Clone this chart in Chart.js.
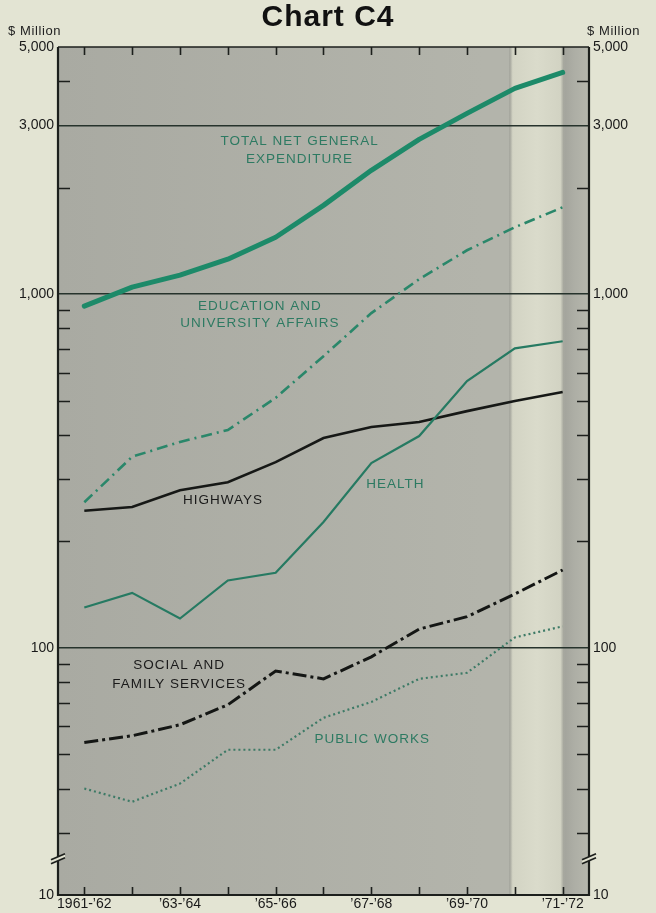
<!DOCTYPE html>
<html>
<head>
<meta charset="utf-8">
<title>Chart C4</title>
<script src="https://cdn.jsdelivr.net/npm/chart.js@4.4.1/dist/chart.umd.min.js"></script>
<style>
  html, body { margin: 0; padding: 0; background: #e3e4d3; }
  #wrap { position: relative; width: 656px; height: 913px; }
  canvas { display: block; }
</style>
</head>
<body>
<div id="wrap"><canvas id="c" width="656" height="913"></canvas></div>
<script>
// Fiscal years on the horizontal axis
const years = ["1961-’62", "’62-’63", "’63-’64", "’64-’65", "’65-’66", "’66-’67",
               "’67-’68", "’68-’69", "’69-’70", "’70-’71", "’71-’72"];
// Only every other year carries a label
const yearLabels = ["1961-’62", "", "’63-’64", "", "’65-’66", "", "’67-’68", "", "’69-’70", "", "’71-’72"];

// Expenditure series, $ million
const totalNet    = [925, 1047, 1132, 1256, 1449, 1783, 2240, 2740, 3245, 3819, 4237];
const education   = [258, 347, 382, 413, 509, 668, 884, 1103, 1331, 1546, 1761];
const health      = [130, 143, 121, 155, 163, 227, 333, 397, 568, 703, 736];
const highways    = [244, 250, 279, 294, 335, 392, 421, 435, 467, 499, 529];
const socialFam   = [54, 56.4, 60.6, 69, 86, 81.7, 94.3, 113, 122.5, 142, 166];
const publicWorks = [40, 36.7, 41.3, 51.5, 51.5, 63.4, 70.3, 81.7, 85, 107, 115];

// Vertical axis: labelled values (the bottom sits below an axis break and reads "10")
const yTickValues = [20, 100, 1000, 3000, 5000];
const yTickLabels = ["10", "100", "1,000", "3,000", "5,000"];
const yMinorTicks = [30, 40, 50, 60, 70, 80, 90, 200, 300, 400, 500, 600, 700, 800, 900, 2000, 4000];
const yGridValues = [100, 1000, 3000];

const GREEN = "#1d8a69";
const GREEN_TXT = "#2d7a62";
const INK = "#1c1f1c";
const FONT = "'Liberation Sans', Arial, sans-serif";

const pts = arr => arr.map((v, i) => ({ x: i, y: v }));

const backdrop = {
  id: "backdrop",
  beforeDraw(chart) {
    const { ctx, chartArea: a, scales } = chart;
    const x = scales.x;
    ctx.save();
    ctx.fillStyle = "#e3e4d3";
    ctx.fillRect(0, 0, chart.width, chart.height);
    // shaded plot body
    const g = ctx.createLinearGradient(a.left, 0, a.right, 0);
    g.addColorStop(0, "#a9aaa2");
    g.addColorStop(0.8, "#b3b4ab");
    g.addColorStop(1, "#b3b4ab");
    ctx.fillStyle = g;
    ctx.fillRect(a.left, a.top, a.right - a.left, a.bottom - a.top);
    // light band over the last year
    const b0 = x.getPixelForValue(8.95), b1 = x.getPixelForValue(9.97);
    const gb = ctx.createLinearGradient(b0 - 3, 0, b1 + 3, 0);
    gb.addColorStop(0, "#9d9e96");
    gb.addColorStop(0.06, "#d3d4c4");
    gb.addColorStop(0.5, "#dadbcb");
    gb.addColorStop(0.93, "#d2d3c3");
    gb.addColorStop(1, "#9c9d95");
    ctx.fillStyle = gb;
    ctx.fillRect(b0 - 3, a.top, b1 - b0 + 6, a.bottom - a.top);
    // right strip
    const gr = ctx.createLinearGradient(b1 + 3, 0, a.right, 0);
    gr.addColorStop(0, "#a3a49c");
    gr.addColorStop(0.4, "#adaea5");
    gr.addColorStop(1, "#b6b7ad");
    ctx.fillStyle = gr;
    ctx.fillRect(b1 + 3, a.top, a.right - b1 - 3, a.bottom - a.top);
    ctx.restore();
  }
};

const frame = {
  id: "frame",
  afterDatasetsDraw(chart) {
    const { ctx, chartArea: a, scales } = chart;
    const x = scales.x, y = scales.y;
    ctx.save();
    ctx.strokeStyle = INK;
    ctx.lineCap = "butt";
    // minor ticks pointing into the plot on both sides
    ctx.lineWidth = 1.6;
    yMinorTicks.forEach(v => {
      const py = Math.round(y.getPixelForValue(v)) + 0.5;
      ctx.beginPath();
      ctx.moveTo(a.left, py); ctx.lineTo(a.left + 12, py);
      ctx.moveTo(a.right, py); ctx.lineTo(a.right - 12, py);
      ctx.stroke();
    });
    // year ticks along the bottom and the top
    years.forEach((_, i) => {
      const px = Math.round(x.getPixelForValue(i)) + 0.5;
      ctx.beginPath();
      ctx.moveTo(px, a.bottom); ctx.lineTo(px, a.bottom - 8);
      ctx.moveTo(px, a.top); ctx.lineTo(px, a.top + 8);
      ctx.stroke();
    });
    // outer frame
    ctx.lineWidth = 2.2;
    ctx.beginPath();
    ctx.moveTo(a.left, a.top); ctx.lineTo(a.left, a.bottom);
    ctx.lineTo(a.right, a.bottom); ctx.lineTo(a.right, a.top);
    ctx.stroke();
    ctx.lineWidth = 1.6;
    ctx.beginPath();
    ctx.moveTo(a.left, a.top); ctx.lineTo(a.right, a.top);
    ctx.stroke();
    // axis break marks
    const by = y.getPixelForValue(25);
    [a.left, a.right].forEach(ax => {
      ctx.fillStyle = "#e0e1d0";
      ctx.beginPath();
      ctx.moveTo(ax - 7, by + 3); ctx.lineTo(ax + 7, by - 3);
      ctx.lineTo(ax + 7, by - 7); ctx.lineTo(ax - 7, by - 1);
      ctx.closePath();
      ctx.fill();
      ctx.lineWidth = 1.8;
      ctx.beginPath();
      ctx.moveTo(ax - 7, by + 3); ctx.lineTo(ax + 7, by - 3);
      ctx.moveTo(ax - 7, by - 1); ctx.lineTo(ax + 7, by - 7);
      ctx.stroke();
    });
    ctx.restore();
  },
  afterDraw(chart) {
    const { ctx, scales } = chart;
    const x = scales.x, y = scales.y;
    ctx.save();
    ctx.textBaseline = "middle";
    ctx.textAlign = "center";
    // title
    ctx.fillStyle = "#111";
    ctx.font = "bold 30px " + FONT;
    ctx.letterSpacing = "1px";
    ctx.fillText("Chart C4", 328, 18);
    // unit captions
    ctx.font = "13px " + FONT;
    ctx.letterSpacing = "0.6px";
    ctx.textAlign = "left";
    ctx.fillStyle = "#222";
    ctx.fillText("$ Million", 8, 31);
    ctx.fillText("$ Million", 587, 31);
    // series names
    ctx.textAlign = "center";
    ctx.font = "13.5px " + FONT;
    ctx.letterSpacing = "1px";
    const put = (txt, xi, yv, color) => {
      ctx.fillStyle = color;
      ctx.fillText(txt, x.getPixelForValue(xi), y.getPixelForValue(yv));
    };
    put("TOTAL NET GENERAL", 4.5, 2700, GREEN_TXT);
    put("EXPENDITURE", 4.5, 2400, GREEN_TXT);
    put("EDUCATION AND", 3.67, 925, GREEN_TXT);
    put("UNIVERSITY AFFAIRS", 3.67, 825, GREEN_TXT);
    put("HIGHWAYS", 2.9, 262, "#1a1a1a");
    put("HEALTH", 6.5, 290, GREEN_TXT);
    put("SOCIAL AND", 1.98, 89, "#1a1a1a");
    put("FAMILY SERVICES", 1.98, 79, "#1a1a1a");
    put("PUBLIC WORKS", 6.02, 55, GREEN_TXT);
    ctx.restore();
  }
};

const font14 = { family: FONT, size: 14 };

new Chart(document.getElementById("c"), {
  type: "line",
  data: {
    datasets: [
      { label: "Total net general expenditure", data: pts(totalNet), borderColor: GREEN,
        borderWidth: 5, borderCapStyle: "round", borderJoinStyle: "round" },
      { label: "Education and university affairs", data: pts(education), borderColor: "#2a876a",
        borderWidth: 2.6, borderDash: [11, 5, 2, 5] },
      { label: "Health", data: pts(health), borderColor: "#267a62", borderWidth: 2.2 },
      { label: "Highways", data: pts(highways), borderColor: "#161816", borderWidth: 2.6 },
      { label: "Social and family services", data: pts(socialFam), borderColor: "#141614",
        borderWidth: 3, borderDash: [14, 4, 3, 4] },
      { label: "Public works", data: pts(publicWorks), borderColor: "#3d7a66",
        borderWidth: 2.2, borderDash: [2, 3] }
    ]
  },
  options: {
    responsive: false,
    animation: false,
    devicePixelRatio: 1,
    layout: { padding: { top: 47, left: 0, right: 0, bottom: 0 } },
    elements: { point: { radius: 0 }, line: { tension: 0, fill: false } },
    plugins: { legend: { display: false }, tooltip: { enabled: false } },
    scales: {
      x: {
        type: "linear", min: -0.55, max: 10.55,
        afterBuildTicks: s => { s.ticks = years.map((_, i) => ({ value: i })); },
        afterFit: s => { s.height = 18; },
        ticks: { autoSkip: false, maxRotation: 0, padding: 1, color: "#1a1a1a", font: font14,
                 callback: v => yearLabels[v] },
        grid: { display: false, drawTicks: false, tickLength: 0 }, border: { display: false }
      },
      y: {
        type: "logarithmic", position: "left", min: 20, max: 5000,
        afterBuildTicks: s => { s.ticks = yTickValues.map(v => ({ value: v })); },
        afterFit: s => { s.width = 58; },
        ticks: { autoSkip: false, padding: 4, color: "#1a1a1a", font: font14,
                 callback: v => yTickLabels[yTickValues.indexOf(v)] },
        grid: { drawTicks: false, lineWidth: 1.6,
                color: c => yGridValues.includes(c.tick.value) ? "#26332c" : "rgba(0,0,0,0)" },
        border: { display: false }
      },
      y2: {
        type: "logarithmic", position: "right", min: 20, max: 5000,
        afterBuildTicks: s => { s.ticks = yTickValues.map(v => ({ value: v })); },
        afterFit: s => { s.width = 67; },
        ticks: { autoSkip: false, padding: 4, color: "#1a1a1a", font: font14,
                 callback: v => yTickLabels[yTickValues.indexOf(v)] },
        grid: { display: false, drawTicks: false }, border: { display: false }
      }
    }
  },
  plugins: [backdrop, frame]
});
</script>
</body>
</html>
